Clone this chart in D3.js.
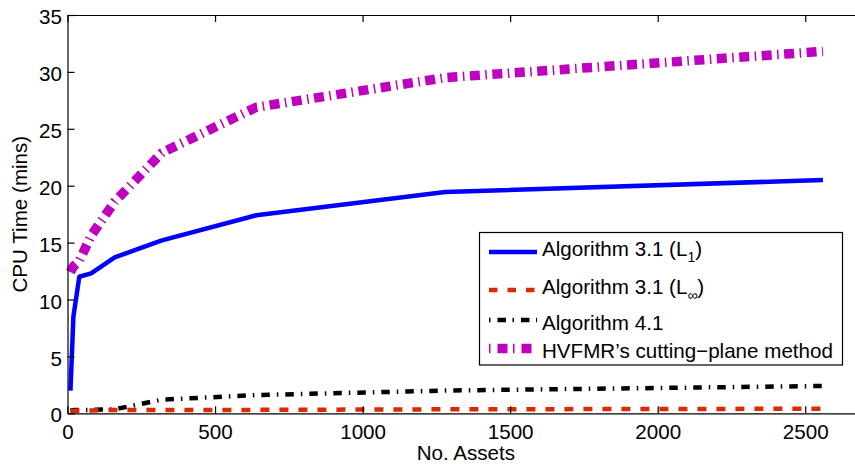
<!DOCTYPE html>
<html>
<head>
<meta charset="utf-8">
<title>CPU Time vs No. Assets</title>
<script src="https://d3js.org/d3.v7.min.js"></script>
<style>
  body { margin: 0; background: #fff; }
  text { font-family: "Liberation Sans", Arial, Helvetica, sans-serif; }
</style>
</head>
<body>
<div id="chart"></div>
<script>
// data
var assets = [10, 20, 40, 80, 160, 320, 640, 1280, 2560];
var algL1 = [2, 8.5, 12, 12.3, 13.7, 15.2, 17.4, 19.45, 20.5];
var algLinf = [0.2, 0.2, 0.25, 0.25, 0.3, 0.3, 0.3, 0.35, 0.4];
var alg41 = [0.25, 0.28, 0.3, 0.3, 0.35, 1.2, 1.6, 2.0, 2.4];
var hvfmr = [12.4, 12.9, 13.4, 15.6, 18.6, 22.9, 26.9, 29.5, 31.8];

var xTicks = [0, 500, 1000, 1500, 2000, 2500];
var yTicks = [0, 5, 10, 15, 20, 25, 30, 35];

var W = 855, H = 464;
var plotLeft = 67.5, plotTop = 15, plotBottom = 413.3;
var fs = 20.6;

var svg = d3.select("#chart").append("svg")
  .attr("width", W)
  .attr("height", H);

// x axis runs past the right edge of the picture (the figure is cropped)
var x = d3.scaleLinear().domain([0, 2700]).range([plotLeft, plotLeft + 2700 * 0.2951]);
var y = d3.scaleLinear().domain([0, 35]).range([plotBottom, plotTop]);

var series = [
  { name: "L1", values: algL1, color: "#0000ff", width: 4.5, dash: null },
  { name: "Linf", values: algLinf, color: "#dc2a00", width: 4.5, dash: "9,10" },
  { name: "A41", values: alg41, color: "#000000", width: 4.5, dash: "8.5,7,1.5,7" },
  { name: "HV", values: hvfmr, color: "#bf00bf", width: 9.5, dash: "10,5.5,1.5,5.5" }
];

var line = d3.line()
  .x(function(d) { return x(d[0]); })
  .y(function(d) { return y(d[1]); });

// draw order: magenta first, blue on top
[series[3], series[0], series[2], series[1]].forEach(function(s) {
  svg.append("path")
    .datum(assets.map(function(a, i) { return [a, s.values[i]]; }))
    .attr("d", line)
    .attr("fill", "none")
    .attr("stroke", s.color)
    .attr("stroke-width", s.width)
    .attr("stroke-dasharray", s.dash)
    .attr("stroke-linejoin", "round");
});

// bottom axis
var xAxis = svg.append("g")
  .attr("transform", "translate(0," + plotBottom + ")")
  .call(d3.axisBottom(x).tickValues(xTicks).tickFormat(d3.format("d"))
    .tickSizeInner(-7).tickSizeOuter(0).tickPadding(11));
xAxis.selectAll("text").attr("font-size", fs).attr("fill", "#000")
  .style("font-family", "'Liberation Sans', Arial, sans-serif");

// top edge with ticks pointing down
svg.append("g")
  .attr("transform", "translate(0," + plotTop + ")")
  .call(d3.axisTop(x).tickValues(xTicks).tickSizeInner(-7).tickSizeOuter(0).tickFormat(""));

// left axis
var yAxis = svg.append("g")
  .attr("transform", "translate(" + plotLeft + ",0)")
  .call(d3.axisLeft(y).tickValues(yTicks).tickSizeInner(-7).tickSizeOuter(0).tickPadding(5.5));
yAxis.selectAll("text").attr("font-size", fs).attr("fill", "#000").attr("dy", "0.42em")
  .style("font-family", "'Liberation Sans', Arial, sans-serif");

svg.selectAll(".domain, .tick line").attr("stroke", "#000").attr("stroke-width", 1.2);

// axis titles
svg.append("text")
  .attr("x", (x.range()[0] + x.range()[1]) / 2)
  .attr("y", 460)
  .attr("text-anchor", "middle")
  .attr("font-size", fs)
  .text("No. Assets");

svg.append("text")
  .attr("transform", "translate(27," + (plotTop + plotBottom) / 2 + ") rotate(-90)")
  .attr("text-anchor", "middle")
  .attr("font-size", fs)
  .text("CPU Time (mins)");

// legend
var leg = svg.append("g");
leg.append("rect")
  .attr("x", 479.5).attr("y", 232.5)
  .attr("width", 363).attr("height", 132.5)
  .attr("fill", "#fff").attr("stroke", "#000").attr("stroke-width", 1.2);

var legRows = [
  { s: series[0], lineY: 252, base: 256, label: "Algorithm 3.1 (L", sub: "1", tail: ")" },
  { s: series[1], lineY: 290, base: 293.5, label: "Algorithm 3.1 (L", sub: "\u221E", tail: ")" },
  { s: series[2], lineY: 320, base: 330, label: "Algorithm 4.1", sub: null, tail: "" },
  { s: series[3], lineY: 348.5, base: 357.5, label: "HVFMR\u2019s cutting\u2212plane method", sub: null, tail: "" }
];

var legDash = { L1: null, Linf: "8.5,10", A41: "1.5,7,8.5,6.5", HV: "1.5,7,10,5.5" };

legRows.forEach(function(r) {
  leg.append("line")
    .attr("x1", 489).attr("x2", 537)
    .attr("y1", r.lineY).attr("y2", r.lineY)
    .attr("stroke", r.s.color)
    .attr("stroke-width", r.s.width)
    .attr("stroke-dasharray", legDash[r.s.name]);
  var t = leg.append("text")
    .attr("x", 542).attr("y", r.base)
    .attr("font-size", fs);
  t.append("tspan").text(r.label);
  if (r.sub) {
    t.append("tspan").attr("font-size", 14).attr("dy", 6).text(r.sub);
    t.append("tspan").attr("dy", -6).text(r.tail);
  }
});
</script>
</body>
</html>
